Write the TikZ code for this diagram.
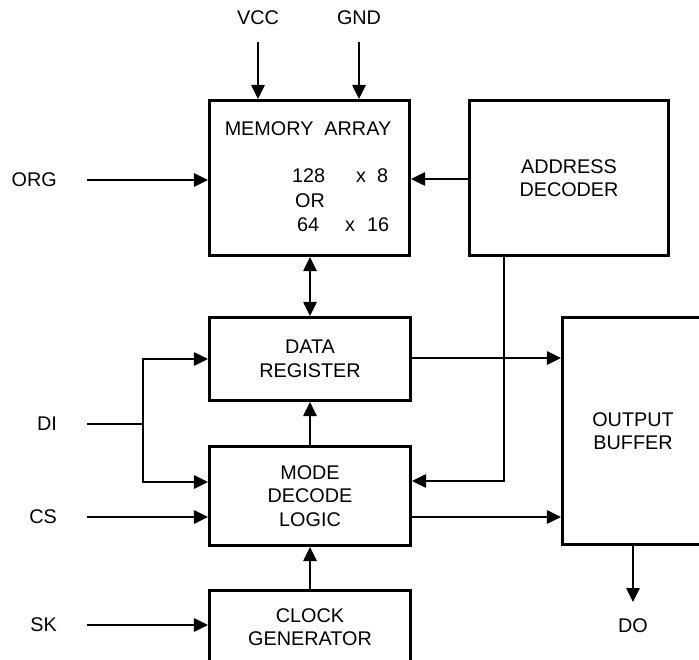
\documentclass[tikz,border=0pt]{standalone}
\usepackage{fontspec}
\setmainfont{Liberation Sans}
\usetikzlibrary{arrows.meta}
\begin{document}
\begin{tikzpicture}[x=1pt,y=-1pt,
  blk/.style={draw, line width=2.6pt, rectangle, inner sep=0pt, align=center, font=\fontsize{19.8}{23.5}\selectfont},
  lbl/.style={inner sep=0pt, font=\fontsize{19.8}{23.5}\selectfont},
  conn/.style={line width=1.1pt},
  arr/.style={conn, -{Triangle[length=14pt,width=13.5pt]}},
  darr/.style={conn, {Triangle[length=14pt,width=13.5pt]}-{Triangle[length=14pt,width=13.5pt]}}]
\useasboundingbox (0,0) rectangle (699,660);
% blocks
\node[blk, minimum width=200.5pt, minimum height=155.5pt] (mem) at (309.5,178) {};
\node[blk, minimum width=199.5pt, minimum height=155.5pt] (addr) at (569,178) {ADDRESS\\DECODER};
\node[blk, minimum width=201.5pt, minimum height=83.5pt] (data) at (310,359) {DATA\\REGISTER};
\node[blk, minimum width=201.5pt, minimum height=99.5pt] (mode) at (310,496) {MODE\\DECODE\\LOGIC};
\node[blk, minimum width=201.5pt, minimum height=73.5pt] (clk) at (310,627) {CLOCK\\GENERATOR};
\node[blk, minimum width=141.5pt, minimum height=227.5pt] (out) at (633,431) {OUTPUT\\BUFFER};
% memory array texts
\node[lbl, anchor=base] (mt) at (308,136) {MEMORY\ \ ARRAY};
\node[lbl, anchor=base west] (na) at (292,183) {128};
\node[lbl, anchor=base west] (xa) at (356,183) {x};
\node[lbl, anchor=base west] (ea) at (377,183) {8};
\node[lbl, anchor=base west] (or) at (295,208) {OR};
\node[lbl, anchor=base west] (nb) at (297,232) {64};
\node[lbl, anchor=base west] (xb) at (345,232) {x};
\node[lbl, anchor=base west] (eb) at (367,232) {16};
% labels
\node[lbl] (vcc) at (258,18) {VCC};
\node[lbl] (gnd) at (359,18) {GND};
\node[lbl, anchor=east] (org) at (57,180) {ORG};
\node[lbl, anchor=east] (di) at (57,424) {DI};
\node[lbl, anchor=east] (cs) at (57,517) {CS};
\node[lbl, anchor=east] (sk) at (57,625) {SK};
\node[lbl] (do) at (633,626) {DO};
% connectors
\draw[arr] (vcc.south |- 0,42) -- (vcc |- mem.north);
\draw[arr] (gnd.south |- 0,42) -- (gnd |- mem.north);
\draw[arr] ([xshift=30pt]org.east) -- (mem.west |- org);
\draw[arr] (addr.west |- 0,179) -- (mem.east |- 0,179);
\draw[darr] (data.north |- mem.south) -- (data.north);
\draw[arr] (mode.north) -- (data.south);
\draw[arr] (clk.north) -- (mode.south);
\draw[arr] (addr.south -| 504,0) |- (mode.east |- 0,481);
\draw[arr] (data.east |- 0,358) -- (out.west |- 0,358);
\draw[arr] (mode.east |- 0,517) -- (out.west |- 0,517);
\draw[arr] (out.south) -- (out.south |- 0,602);
\coordinate (split) at (143,424);
\draw[conn] ([xshift=30pt]di.east) -- (split);
\draw[arr] (split) |- (data.west);
\draw[arr] (split) |- (mode.west |- 0,482);
\draw[arr] ([xshift=30pt]cs.east) -- (mode.west |- cs);
\draw[arr] ([xshift=30pt]sk.east) -- (clk.west |- sk);
\end{tikzpicture}
\end{document}
